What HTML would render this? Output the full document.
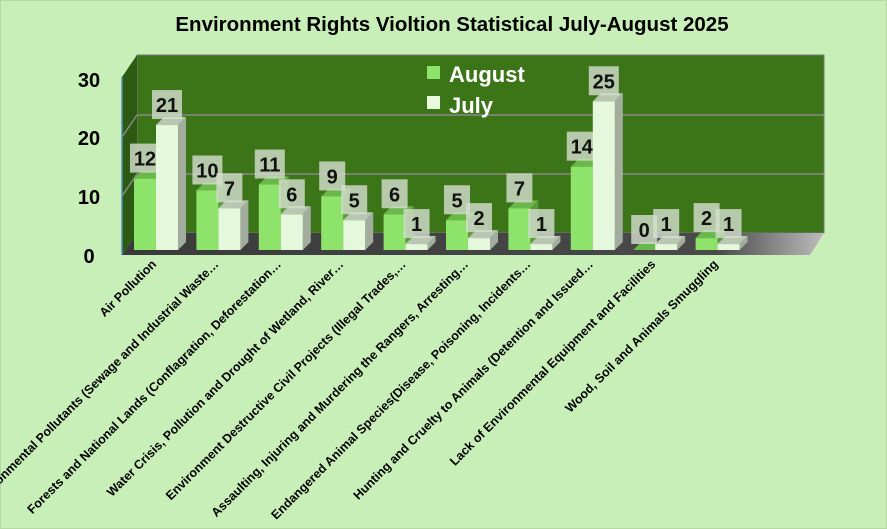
<!DOCTYPE html>
<html><head><meta charset="utf-8"><style>
html,body{margin:0;padding:0;background:#c9efb8;}
svg{display:block;font-family:"Liberation Sans",sans-serif;}
</style></head><body>
<svg width="887" height="529" viewBox="0 0 887 529" xmlns="http://www.w3.org/2000/svg">
<defs>
<linearGradient id="fl" x1="0" y1="0" x2="1" y2="0">
<stop offset="0" stop-color="#3a3a3a"/><stop offset="0.85" stop-color="#4a4a4a"/><stop offset="1" stop-color="#bdbdbd"/>
</linearGradient>
</defs>
<rect x="0.5" y="0.5" width="886" height="528" fill="#c9efb8" stroke="#b5d9a5"/>
<text x="452" y="31" text-anchor="middle" font-size="20.5" font-weight="bold" fill="#000">Environment  Rights Violtion Statistical July-August 2025</text>
<rect x="137" y="55" width="687" height="178" fill="#3b7518" stroke="#777" stroke-width="1"/>
<polygon points="122,77 137,55 137,233 122,255" fill="#2c5a12"/>
<line x1="122" y1="77" x2="122" y2="255" stroke="#4a90c0" stroke-width="1.5"/>
<g stroke="#8a8a8a" stroke-width="1.5">
<line x1="137" y1="115" x2="824" y2="115"/><line x1="122" y1="137" x2="137" y2="115"/>
<line x1="137" y1="174" x2="824" y2="174"/><line x1="122" y1="196" x2="137" y2="174"/>
</g>
<polygon points="137,233 824,233 810,255 122,255" fill="url(#fl)"/>
<g font-size="20" font-weight="bold" fill="#000" text-anchor="middle">
<text x="89" y="87">30</text><text x="89" y="145">20</text><text x="89" y="204">10</text><text x="89" y="263">0</text>
</g>
<rect x="427" y="66" width="13" height="13" fill="#8ee36a"/>
<text x="449" y="82" font-size="22" font-weight="bold" fill="#fff">August</text>
<rect x="427" y="96" width="13" height="13" fill="#e8fadc"/>
<text x="449" y="113" font-size="22" font-weight="bold" fill="#fff">July</text>
<g id="bars"></g>
<g id="labs" font-size="12.5" font-weight="bold" fill="#000"></g>
</svg>
<script>
var A=[12,10,11,9,6,5,7,14,0,2],J=[21,7,6,5,1,2,1,25,1,1];
var L=["Air Pollution","Environmental Pollutants (Sewage and Industrial Waste…","Forests and National Lands (Conflagration, Deforestation…","Water Crisis, Pollution and Drought of Wetland, River…","Environment Destructive Civil Projects (Illegal Trades,…","Assaulting, Injuring and Murdering the Rangers, Arresting…","Endangered Animal Species(Disease, Poisoning, Incidents…","Hunting and Cruelty to Animals (Detention and Issued…","Lack of Environmental Equipment and Facilities","Wood, Soil and Animals Smuggling"];
var s="",b0=250,k=5.95,w=22,d=8,lab="";
function bar(x,v,front,top,side){var h=v*k,t=b0-h;var r="";
r+='<polygon points="'+(x+w)+','+b0+' '+(x+w+d)+','+(b0-d)+' '+(x+w+d)+','+(t-d)+' '+(x+w)+','+t+'" fill="'+side+'"/>';
r+='<polygon points="'+x+','+t+' '+(x+d)+','+(t-d)+' '+(x+w+d)+','+(t-d)+' '+(x+w)+','+t+'" fill="'+top+'"/>';
if(h>0)r+='<rect x="'+x+'" y="'+t+'" width="'+w+'" height="'+h+'" fill="'+front+'"/>';
var bw=v<10?26:30;
r+='<rect x="'+(x+w/2-bw/2)+'" y="'+(t-35)+'" width="'+bw+'" height="29" fill="#d6dfd0" fill-opacity="0.8"/>';
r+='<text x="'+(x+w/2)+'" y="'+(t-13)+'" text-anchor="middle" font-size="20" font-weight="bold" fill="#111">'+v+'</text>';
return r;}
for(var i=0;i<10;i++){var x=134+i*62.4;
s+=bar(x,A[i],"#8ee36a","#6ab84a","#5a9a3c");
s+=bar(x+w,J[i],"#e6f8dc","#b9c7b2","#a3ad9e");
var cx=x+w+1,cy=265;
lab+='<text transform="translate('+cx+','+cy+') rotate(-45)" text-anchor="end">'+L[i]+'</text>';}
document.getElementById("bars").innerHTML=s;
document.getElementById("labs").innerHTML=lab;
</script>
</body></html>
